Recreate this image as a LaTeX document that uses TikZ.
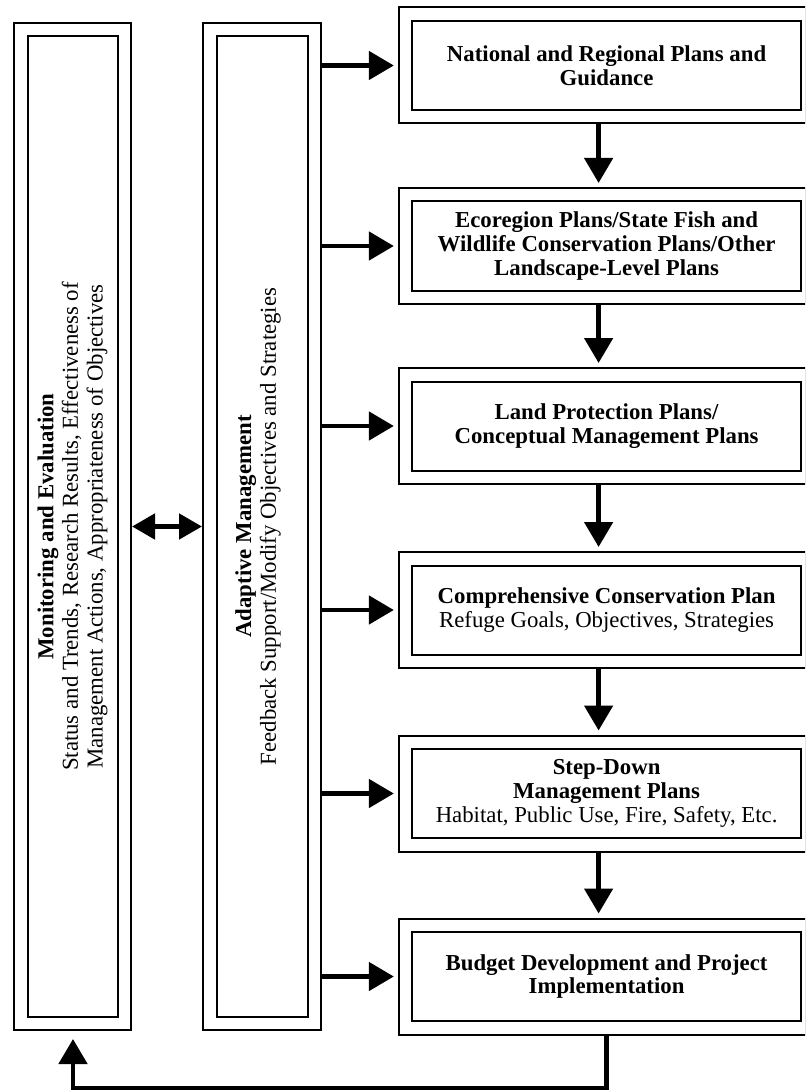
\documentclass[tikz,border=0pt]{standalone}
\usepackage{fontspec}
\setmainfont{Liberation Serif}
\usetikzlibrary{arrows.meta,positioning,calc}

\begin{document}
\begin{tikzpicture}[x=0.5pt,y=-0.5pt,
  frame/.style={draw, line width=1pt, double, double distance=5.75pt, outer sep=3.875pt, inner sep=0pt},
  planbox/.style={frame, minimum width=201pt, minimum height=51.25pt, align=center, font=\fontsize{11.4}{11.8}\selectfont},
  colbox/.style={frame, minimum height=496.75pt},
  coltext/.style={rotate=90, align=center, font=\fontsize{11.4}{12.3}\selectfont},
  bigarrow/.style={line width=2.4pt, -{Triangle[length=12.5pt,width=14pt]}, shorten >=2pt}]
\useasboundingbox (0,0) rectangle (805,1091);
\clip (0,0) rectangle (805,1091);

% the two tall columns
\node[colbox, minimum width=51.75pt] (mon) at (72.5,526.5) {};
\node[colbox, minimum width=52.25pt] (adapt) at (262,526.5) {};
\node[coltext] (montext) at (mon.center) {\textbf{Monitoring and Evaluation}\\Status and Trends, Research Results, Effectiveness of\\Management Actions, Appropriateness of Objectives};
\node[coltext] (adapttext) at ([xshift=-2pt]adapt.center) {\textbf{Adaptive Management}\\Feedback Support/Modify Objectives and Strategies};

% the chain of plans
\node[planbox] (b1) at (606.6,65.5) {\textbf{National and Regional Plans and}\\\textbf{Guidance}};
\node[planbox] (b2) at (606.6,246) {\textbf{Ecoregion Plans/State Fish and}\\\textbf{Wildlife Conservation Plans/Other}\\\textbf{Landscape-Level Plans}};
\node[planbox] (b3) at (606.6,426) {\textbf{Land Protection Plans/}\\\textbf{Conceptual Management Plans}};
\node[planbox] (b4) at (606.6,610) {\textbf{Comprehensive Conservation Plan}\\Refuge Goals, Objectives, Strategies};
\node[planbox] (b5) at (606.6,793.5) {\textbf{Step-Down}\\\textbf{Management Plans}\\Habitat, Public Use, Fire, Safety, Etc.};
\node[planbox] (b6) at (606.6,976.5) {\textbf{Budget Development and Project}\\\textbf{Implementation}};

% arrows
\foreach \b in {b1,b2,b3,b4,b5,b6}
  \draw[bigarrow] (adapt.east |- \b.west) -- (\b.west);
\foreach \a/\b in {b1/b2,b2/b3,b3/b4,b4/b5,b5/b6}
  \draw[bigarrow] ([xshift=-4pt]\a.south) -- ([xshift=-4pt]\b.north);
\draw[line width=2.4pt, {Triangle[length=11.5pt,width=12.5pt]}-{Triangle[length=11.5pt,width=12.5pt]}] (mon.east) -- (adapt.west);
\coordinate (fbcorner) at (73,1088);
\draw[bigarrow, shorten >=4pt] (b6.south) |- (fbcorner) -- (mon.south -| fbcorner);
\end{tikzpicture}
\end{document}
